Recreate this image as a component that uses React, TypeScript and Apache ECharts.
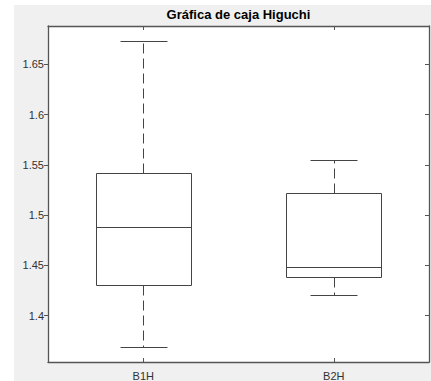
import React, { useEffect, useRef } from "react";
import * as echarts from "echarts";

const categories = ["B1H", "B2H"];
const minValues = [1.369, 1.421];
const q1Values = [1.4305, 1.438];
const medianValues = [1.4878, 1.448];
const q3Values = [1.5416, 1.5215];
const maxValues = [1.6735, 1.5546];
const yTicks = [1.4, 1.45, 1.5, 1.55, 1.6, 1.65];
const yMin = 1.354;
const yMax = 1.688;
const titleText = "Gráfica de caja Higuchi";

const FONT = "'Liberation Sans', Arial, Helvetica, sans-serif";
const AXIS_COLOR = "#555555";
const LINE_COLOR = "#444444";

export default function App() {
  const ref = useRef<HTMLDivElement>(null);

  useEffect(() => {
    if (!ref.current) return;
    const chart = echarts.init(ref.current, undefined, { renderer: "svg" });
    const rows = categories.map((_, i) => [
      i,
      minValues[i],
      q1Values[i],
      medianValues[i],
      q3Values[i],
      maxValues[i],
    ]);
    const r = (v: number) => Math.round(v) + 0.5;

    const renderItem = (params: any, api: any) => {
      const idx = api.value(0);
      const band = api.size([1, 0])[0];
      const half = band * 0.25;
      const capHalf = band * 0.1225;
      const yOf = (d: number) => api.coord([idx, api.value(d)])[1];
      const cx = api.coord([idx, api.value(3)])[0];
      const yMn = r(yOf(1));
      const yQ1 = r(yOf(2));
      const yMd = r(yOf(3));
      const yQ3 = r(yOf(4));
      const yMx = r(yOf(5));
      const x0 = r(cx - half);
      const x1 = r(cx + half);
      const xc = r(cx);
      const solid = { stroke: LINE_COLOR, lineWidth: 1, fill: "none" };
      const dashed = { stroke: LINE_COLOR, lineWidth: 1, lineDash: [10, 5] };
      return {
        type: "group",
        children: [
          { type: "rect", shape: { x: x0, y: yQ3, width: x1 - x0, height: yQ1 - yQ3 }, style: solid },
          { type: "line", shape: { x1: x0, y1: yMd, x2: x1, y2: yMd }, style: solid },
          { type: "line", shape: { x1: xc, y1: yQ3, x2: xc, y2: yMx }, style: dashed },
          { type: "line", shape: { x1: xc, y1: yQ1, x2: xc, y2: yMn }, style: dashed },
          { type: "line", shape: { x1: r(cx - capHalf), y1: yMx, x2: r(cx + capHalf), y2: yMx }, style: solid },
          { type: "line", shape: { x1: r(cx - capHalf), y1: yMn, x2: r(cx + capHalf), y2: yMn }, style: solid },
        ],
      };
    };

    const gridLeft = 34;
    const gridRight = 2;
    const chartW = 417;

    chart.setOption({
      animation: false,
      backgroundColor: "transparent",
      graphic: [
        {
          type: "text",
          x: (gridLeft + chartW - gridRight) / 2,
          y: 9,
          style: {
            text: titleText,
            align: "center",
            verticalAlign: "middle",
            fill: "#000",
            fontSize: 13,
            fontWeight: "bold",
            fontFamily: FONT,
          },
        },
      ],
      grid: {
        left: gridLeft,
        right: gridRight,
        top: 21,
        bottom: 19,
        show: true,
        backgroundColor: "#ffffff",
        borderWidth: 0,
      },
      xAxis: [
        {
          type: "category",
          data: categories,
          position: "bottom",
          boundaryGap: true,
          axisLine: { show: true, lineStyle: { color: AXIS_COLOR, width: 1.3 } },
          axisTick: { show: true, inside: true, length: 4, alignWithLabel: true, lineStyle: { color: AXIS_COLOR } },
          axisLabel: { color: "#333", fontSize: 11, fontFamily: FONT, margin: 8 },
          splitLine: { show: false },
        },
        {
          type: "category",
          data: categories,
          position: "top",
          boundaryGap: true,
          axisLine: { show: true, lineStyle: { color: AXIS_COLOR, width: 1.3 } },
          axisTick: { show: true, inside: true, length: 4, alignWithLabel: true, lineStyle: { color: AXIS_COLOR } },
          axisLabel: { show: false },
          splitLine: { show: false },
        },
      ],
      yAxis: [
        {
          type: "value",
          min: yMin,
          max: yMax,
          position: "left",
          axisLine: { show: true, lineStyle: { color: AXIS_COLOR, width: 1.3 } },
          axisTick: { show: true, inside: false, length: 4, customValues: yTicks, lineStyle: { color: AXIS_COLOR } },
          axisLabel: {
            color: "#333",
            fontSize: 11,
            fontFamily: FONT,
            margin: 4,
            customValues: yTicks,
            formatter: (v: number) => String(v),
          },
          splitLine: { show: false },
        },
        {
          type: "value",
          min: yMin,
          max: yMax,
          position: "right",
          axisLine: { show: true, lineStyle: { color: AXIS_COLOR, width: 1.3 } },
          axisTick: { show: true, inside: true, length: 4, customValues: yTicks, lineStyle: { color: AXIS_COLOR } },
          axisLabel: { show: false, customValues: yTicks },
          splitLine: { show: false },
        },
      ],
      series: [
        {
          type: "custom",
          xAxisIndex: 0,
          yAxisIndex: 0,
          renderItem,
          encode: { x: 0, y: [1, 2, 3, 4, 5] },
          data: rows,
          z: 10,
        },
      ],
    });
    return () => chart.dispose();
  }, []);

  return (
    <div style={{ position: "fixed", left: 0, top: 0, width: 431, height: 381, background: "#ffffff" }}>
      <div style={{ position: "absolute", left: 14, top: 5, width: 417, height: 376, background: "#f0f0f0" }}>
        <div ref={ref} style={{ width: 417, height: 376 }} />
      </div>
    </div>
  );
}
